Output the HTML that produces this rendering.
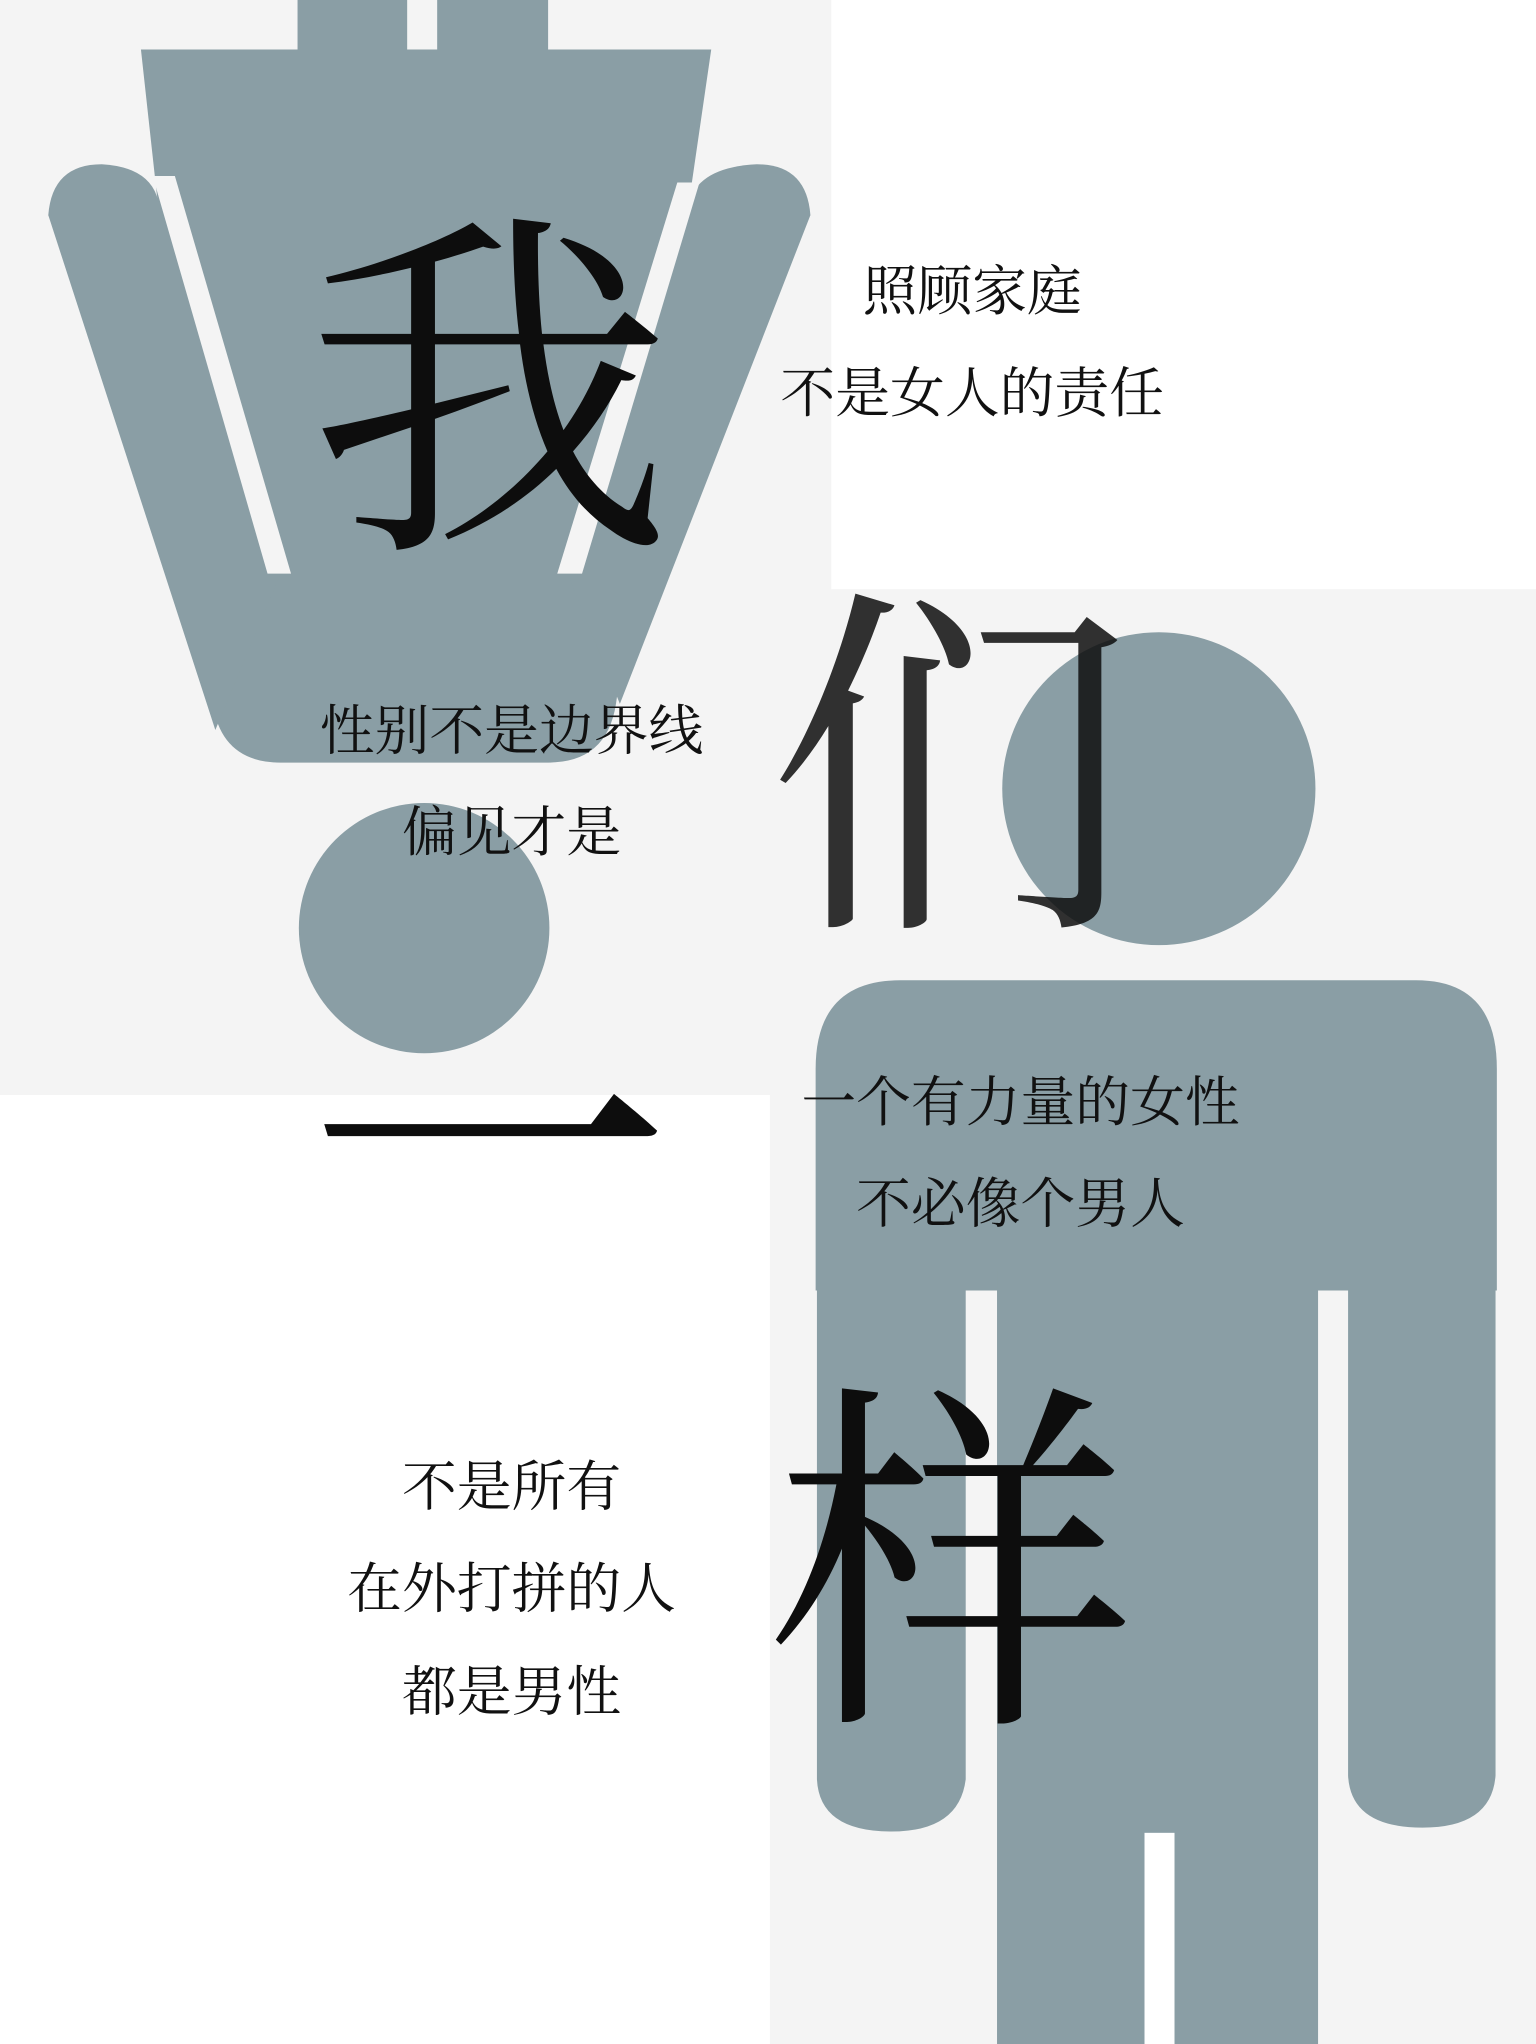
<!DOCTYPE html>
<html><head><meta charset="utf-8"><style>
html,body{margin:0;padding:0;background:#fff;}
svg{display:block;}
.s{font-family:"Liberation Serif","Noto Serif CJK SC",serif;font-size:42px;fill:#111;text-anchor:middle;}
.b{font-family:"Liberation Serif","Noto Serif CJK SC",serif;font-size:280px;fill:#0d0d0d;text-anchor:middle;}
</style></head><body>
<svg width="1536" height="2044" viewBox="0 0 1177 1568" preserveAspectRatio="none">
<rect x="0" y="0" width="1177" height="1568" fill="#fff"/>
<rect x="0" y="0" width="637" height="840" fill="#f4f4f4"/>
<rect x="590" y="452" width="587" height="1116" fill="#f4f4f4"/>
<g fill="#8a9ea5">
  <rect x="228" y="0" width="84" height="40"/>
  <rect x="335" y="0" width="85" height="40"/>
  <path d="M108 38 L545 38 L472 540 Q465 585 420 585 L215 585 Q170 585 163 540 Z"/>
  <path d="M37 165 Q40 126 78 126 Q112 128 120 150 L215 440 L165 560 Z"/>
  <path d="M621 165 Q618 126 580 126 Q540 128 530 150 L435 440 L475 540 Z"/>
  <circle cx="325" cy="712" r="96"/>
</g>
<g fill="#f4f4f4">
  <polygon points="117,135 134,135 223,440 205,440"/>
  <polygon points="519,140 536,140 446,440 427,440"/>
</g>
<g fill="#8a9ea5">
  <circle cx="888" cy="605" r="120"/>
  <path d="M625 820 Q625 752 690 752 L1085 752 Q1147 752 1147 820 L1147 990 L625 990 Z"/>
  <path d="M626 980 L740 980 L740 1365 Q735 1405 683 1405 Q628 1405 626 1365 Z"/>
  <path d="M1033 975 L1146 975 L1146 1362 Q1143 1402 1090 1402 Q1035 1402 1033 1362 Z"/>
  <rect x="764" y="975" width="246" height="593"/>
</g>
<rect x="877" y="1406" width="23" height="162" fill="#fff"/>
<g>
<text class="b" x="375" y="400">我</text>
<text class="b" x="728" y="690" fill-opacity="0.85">们</text>
<text class="b" x="375" y="983">一</text>
<text class="b" x="730" y="1300">样</text>
</g>
<text class="s" x="745" y="238">照顾家庭</text>
<text class="s" x="745" y="316">不是女人的责任</text>
<text class="s" x="392" y="575">性别不是边界线</text>
<text class="s" x="392" y="653">偏见才是</text>
<text class="s" x="782" y="860">一个有力量的女性</text>
<text class="s" x="782" y="938">不必像个男人</text>
<text class="s" x="392" y="1155">不是所有</text>
<text class="s" x="392" y="1233">在外打拼的人</text>
<text class="s" x="392" y="1312">都是男性</text>
</svg>
</body></html>
